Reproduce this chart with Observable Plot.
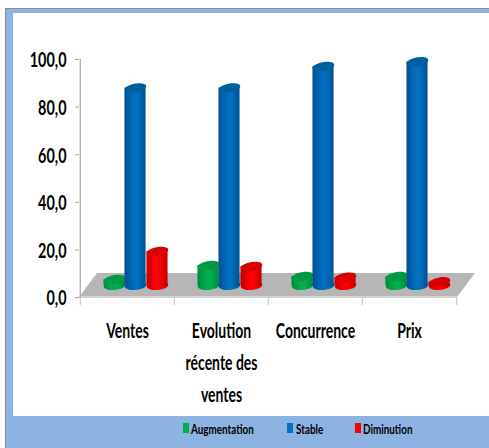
<!DOCTYPE html>
<html lang="fr">
<head>
<meta charset="utf-8">
<script src="https://cdn.jsdelivr.net/npm/d3@7"></script>
<script src="https://cdn.jsdelivr.net/npm/@observablehq/plot@0.6"></script>
<style>
  html,body{margin:0;padding:0;background:#fff;width:489px;height:448px;overflow:hidden}
  #frame{position:absolute;left:5px;top:8px;width:484px;height:440px;box-sizing:border-box;background:#8db3e2;border-left:1px solid #8a8a8a;border-top:1px solid #8a8a8a}
  #inner{position:absolute;left:13px;top:13px;width:476px;height:403px;background:#fff}
  #chart{position:absolute;left:0;top:0}
  #chart svg{background:transparent}
  #legend{position:absolute;left:0;top:416px;width:489px;height:32px;font:bold 13px Lato,sans-serif;color:#000}
  #legend span{position:absolute;top:6px;line-height:14px;white-space:nowrap;transform:scaleX(.76);transform-origin:left center}
  #legend i{position:absolute;top:7px;width:6px;height:10px}
</style>
</head>
<body>
<div id="frame"></div>
<div id="inner"></div>
<div id="chart"></div>
<div id="legend"></div>
<script>
const categories = ["Ventes", "Evolution\nrécente des\nventes", "Concurrence", "Prix"];
const seriesNames = ["Augmentation", "Stable", "Diminution"];
const augmentation = [2.5, 8.4, 3.8, 3.8];
const stable = [83, 83, 92, 94];
const diminution = [14.3, 8, 3.4, 1.5];
const yTicks = [0, 20, 40, 60, 80, 100];
const seriesColors = ["#00b050", "#0070c0", "#ff0000"];
const seriesDark = ["#008a3e", "#00508f", "#c00000"];
const seriesTop = ["#009a45", "#005f9f", "#d80000"];
const seriesOffsets = [-13, 8, 30];

const font = 'Lato,sans-serif';
const halfBand = 47.25, lift = -12;

const ellipse = sh => ({
  draw(ctx, size) {
    const rx = Math.sqrt(size / Math.PI), ry = rx * 0.42, k = 0.5523;
    const P = (x, y) => [x, y + sh * x];
    ctx.moveTo(...P(rx, 0));
    ctx.bezierCurveTo(...P(rx, k * ry), ...P(k * rx, ry), ...P(0, ry));
    ctx.bezierCurveTo(...P(-k * rx, ry), ...P(-rx, k * ry), ...P(-rx, 0));
    ctx.bezierCurveTo(...P(-rx, -k * ry), ...P(-k * rx, -ry), ...P(0, -ry));
    ctx.bezierCurveTo(...P(k * rx, -ry), ...P(rx, -k * ry), ...P(rx, 0));
    ctx.closePath();
  }
});
const topShape = ellipse(-0.15), baseShape = ellipse(-0.06);

const defs = () => {
  const d = d3.create("svg:defs");
  seriesColors.forEach((c, i) => {
    const g = d.append("linearGradient").attr("id", "g" + i);
    [[0, seriesDark[i]], [0.45, c], [0.62, c], [1, seriesDark[i]]].forEach(([o, col]) =>
      g.append("stop").attr("offset", o).attr("stop-color", col));
  });
  return d.node();
};

const floor = (index, scales, values, dims) => {
  const l = dims.marginLeft, r = dims.width - dims.marginRight, b = dims.height - dims.marginBottom;
  const g = d3.create("svg:g");
  g.append("path").attr("d", `M${l},${b}L${l + 18},${b - 24}H${r + 18}L${r},${b}Z`).attr("fill", "#b6b6b6");
  g.append("path").attr("d", `M${l},${b}H${r}`).attr("stroke", "#d2d2d2").attr("stroke-width", 2).attr("fill", "none");
  return g.node();
};

const rows = [augmentation, stable, diminution].map(vals => vals.map((v, i) => ({cat: categories[i], v})));

const barMarks = rows.flatMap((data, i) => {
  const o = {x: "cat", dx: seriesOffsets[i], dy: lift};
  return [
    Plot.dot(data, {...o, y: () => 0, r: 10.8, symbol: baseShape, fill: `url(#g${i})`, stroke: "none"}),
    Plot.barY(data, {...o, y: "v", fill: `url(#g${i})`, insetLeft: halfBand - 10.8, insetRight: halfBand - 10.8}),
    Plot.dot(data, {...o, y: "v", r: 10.8, symbol: topShape, fill: seriesTop[i], stroke: "none"})
  ];
});

const chart = Plot.plot({
  width: 489, height: 416,
  marginLeft: 79, marginRight: 32, marginTop: 59, marginBottom: 119,
  style: {background: "transparent", fontFamily: font},
  x: {domain: categories, padding: 0, axis: null},
  y: {domain: [0, 100], axis: null},
  marks: [
    defs,
    floor,
    Plot.axisY({ticks: yTicks, tickSize: 4, tickPadding: 9, stroke: "#a6a6a6", fill: "#000",
      tickFormat: d => d.toFixed(1).replace(".", ","), fontSize: 20, fontWeight: "bold", label: null}),
    Plot.ruleX([categories[0]], {dx: -halfBand, y1: 0, y2: 100, stroke: "#a6a6a6", strokeWidth: 1.2}),
    Plot.ruleX(categories, {dx: -halfBand, y1: 0, y2: -3.4, stroke: "#c0c0c0"}),
    Plot.ruleX(categories.slice(-1), {dx: halfBand, y1: 0, y2: -3.4, stroke: "#c0c0c0"}),
    ...barMarks,
    Plot.axisX({tickSize: 0, tickPadding: 18, lineHeight: 1.6, fontSize: 20, fontWeight: "bold", label: null, fill: "#000"})
  ]
});
document.getElementById("chart").append(chart);

// Calibri-like narrow lettering: condense each label horizontally around its anchor
d3.select(chart).selectAll('g[aria-label="y-axis tick label"] text').attr("transform", function () {
  return (this.getAttribute("transform") || "") + " translate(0,1.5) scale(0.72,1)";
});
d3.select(chart).selectAll('g[aria-label="x-axis tick label"] text').attr("transform", function () {
  return (this.getAttribute("transform") || "") + " scale(0.7,1)";
});

const legend = document.getElementById("legend");
const pos = [[183, 191], [287, 296], [355, 363]];
seriesNames.forEach((n, i) => {
  const sw = document.createElement("i");
  sw.style.left = pos[i][0] + "px"; sw.style.background = seriesColors[i];
  const t = document.createElement("span");
  t.style.left = pos[i][1] + "px"; t.textContent = n;
  legend.append(sw, t);
});
</script>
</body>
</html>
